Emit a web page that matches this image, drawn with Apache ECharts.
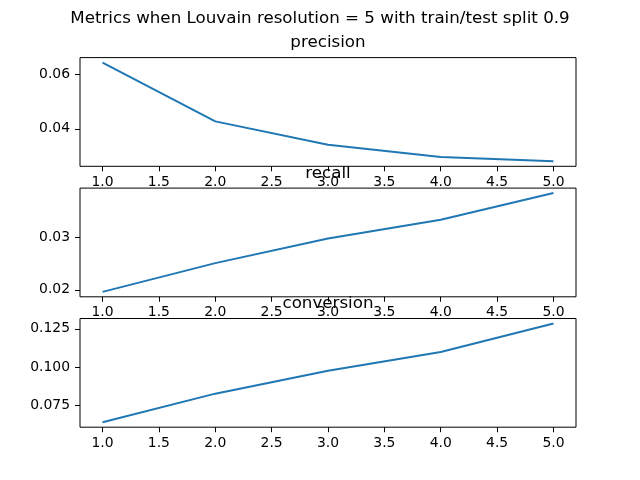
<!DOCTYPE html>
<html>
<head>
<meta charset="utf-8">
<script src="https://cdn.jsdelivr.net/npm/echarts@6/dist/echarts.min.js"></script>
<style>
  html, body { margin: 0; padding: 0; background: #fff; }
  #main { width: 640px; height: 480px; }
</style>
</head>
<body>
<div id="main"></div>
<script>
// data
var xValues = [1, 2, 3, 4, 5];
var precision = [0.0642, 0.0427, 0.0342, 0.0297, 0.0281];
var recall = [0.0196, 0.0251, 0.0298, 0.0334, 0.0385];
var conversion = [0.0639, 0.0826, 0.0976, 0.1098, 0.1285];

var xTicks = [1.0, 1.5, 2.0, 2.5, 3.0, 3.5, 4.0, 4.5, 5.0];
var precisionTicks = [0.04, 0.06];
var recallTicks = [0.02, 0.03];
var conversionTicks = [0.075, 0.100, 0.125];

var panelNames = ['precision', 'recall', 'conversion'];
var panelData = [precision, recall, conversion];
var panelTicks = [precisionTicks, recallTicks, conversionTicks];
var panelDigits = [2, 2, 3];

var chart = echarts.init(document.getElementById('main'));
var font = 'DejaVu Sans';
var panelTop = [57.6, 188.1, 318.5];
var panelH = 108.7;

var grids = [], xAxes = [], yAxes = [], series = [];
var titles = [{
  text: 'Metrics when Louvain resolution = 5 with train/test split 0.9',
  left: 320, top: 10, padding: 0, textAlign: 'center',
  textStyle: { fontFamily: font, fontSize: 16.7, fontWeight: 'normal', color: '#000' }
}];

panelData.forEach(function (vals, i) {
  var lo = Math.min.apply(null, vals), hi = Math.max.apply(null, vals);
  var pad = (hi - lo) * 0.05;
  grids.push({
    left: 80, right: 64, top: panelTop[i], height: panelH,
    show: true, borderColor: '#000', borderWidth: 1, backgroundColor: 'transparent'
  });
  titles.push({
    text: panelNames[i],
    left: 328, top: panelTop[i] - 23, padding: 0, textAlign: 'center',
    textStyle: { fontFamily: font, fontSize: 16.7, fontWeight: 'normal', color: '#000' }
  });
  xAxes.push({
    type: 'value', gridIndex: i, min: 0.8, max: 5.2,
    splitLine: { show: false },
    axisLine: { show: false },
    axisTick: { show: true, inside: false, length: 5, lineStyle: { color: '#000', width: 1 }, customValues: xTicks },
    axisLabel: {
      margin: 9, color: '#000', fontFamily: font, fontSize: 13.9,
      customValues: xTicks,
      formatter: function (v) { return v.toFixed(1); }
    }
  });
  yAxes.push({
    type: 'value', gridIndex: i, min: lo - pad, max: hi + pad,
    splitLine: { show: false },
    axisLine: { show: false },
    axisTick: { show: true, inside: false, length: 5, lineStyle: { color: '#000', width: 1 }, customValues: panelTicks[i] },
    axisLabel: {
      margin: 10, color: '#000', fontFamily: font, fontSize: 13.9,
      customValues: panelTicks[i],
      formatter: function (v) { return v.toFixed(panelDigits[i]); }
    }
  });
  series.push({
    type: 'line', xAxisIndex: i, yAxisIndex: i,
    data: xValues.map(function (x, k) { return [x, vals[k]]; }),
    showSymbol: false, symbol: 'none',
    lineStyle: { color: '#1f77b4', width: 2 },
    animation: false
  });
});

chart.setOption({
  animation: false,
  title: titles,
  grid: grids,
  xAxis: xAxes,
  yAxis: yAxes,
  series: series
});
</script>
</body>
</html>
